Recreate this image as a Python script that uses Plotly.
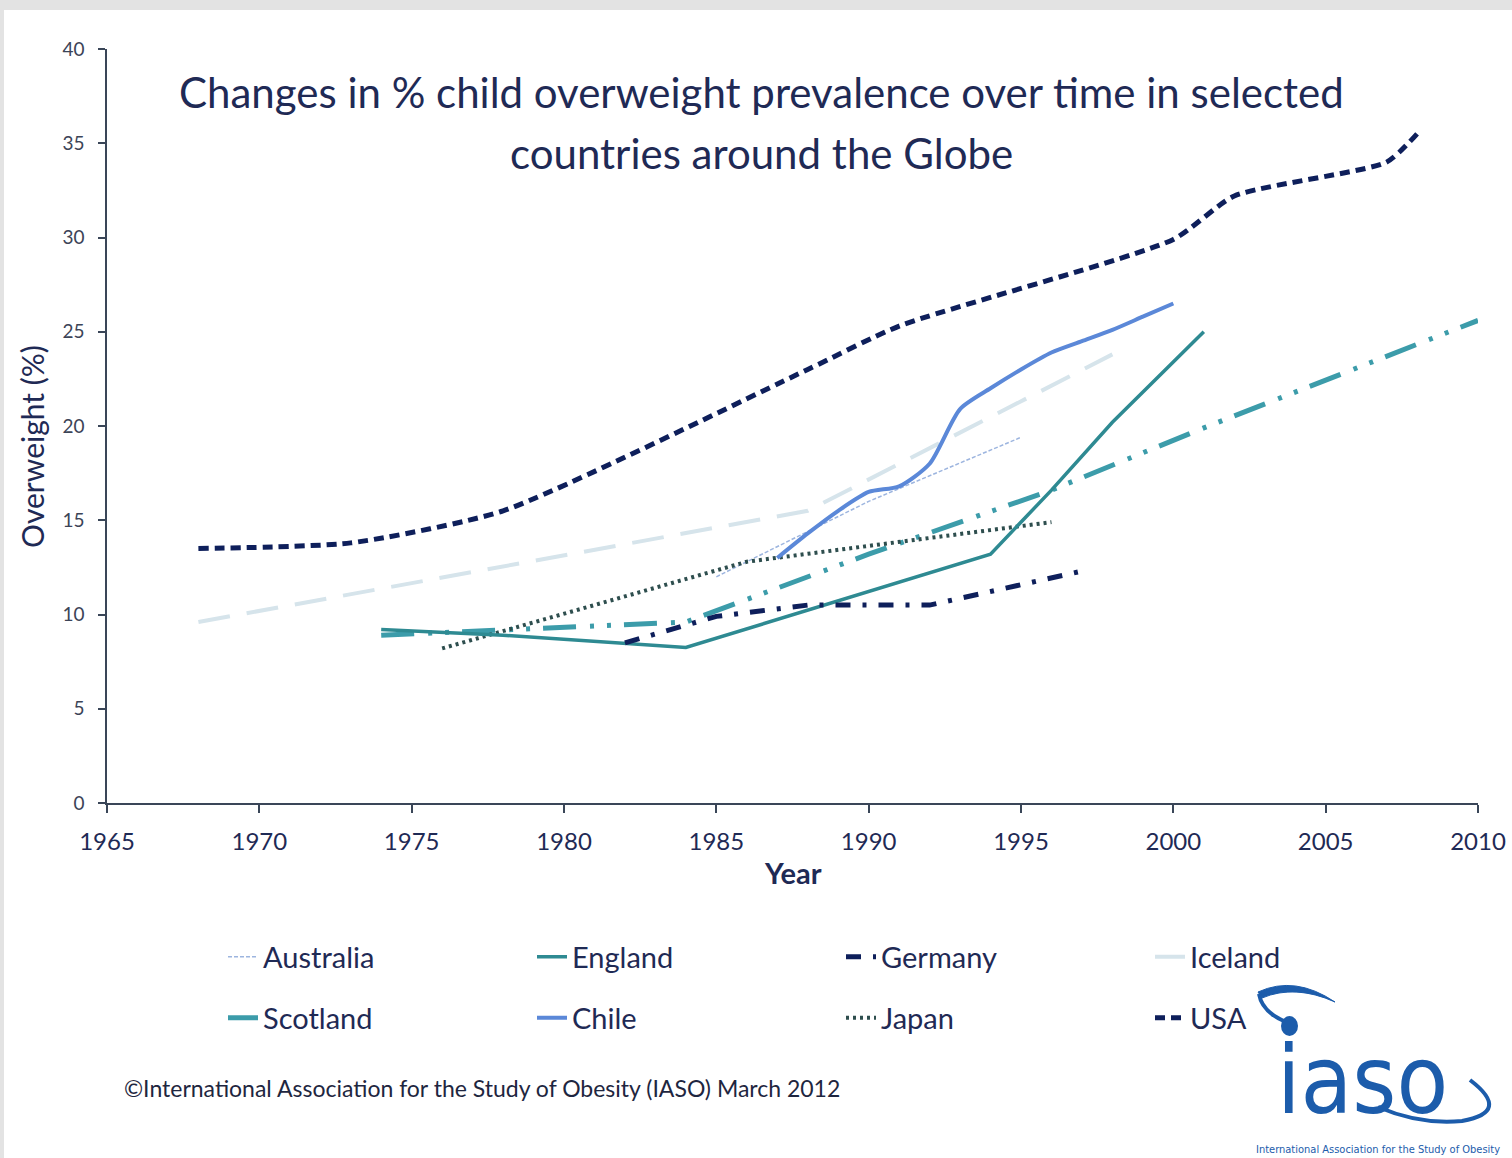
import plotly.graph_objects as go

# ---------------- data ----------------
usa_years = [1968, 1973, 1978, 1988, 1991, 2000, 2002, 2007, 2008]
usa_vals = [13.5, 13.8, 15.5, 23.0, 25.3, 29.9, 32.2, 34.0, 35.5]

iceland_years = [1968, 1988, 1998]
iceland_vals = [9.6, 15.5, 23.8]

australia_years = [1985, 1990, 1995]
australia_vals = [12.0, 16.0, 19.4]

england_years = [1974, 1978, 1984, 1994, 1996, 1998, 2001]
england_vals = [9.2, 8.9, 8.25, 13.2, 16.6, 20.2, 25.0]

scotland_years = [1974, 1978, 1984, 1990, 1996, 2001, 2010]
scotland_vals = [8.9, 9.2, 9.6, 13.2, 16.6, 19.9, 25.6]

germany_years = [1982, 1985, 1988, 1992, 1997]
germany_vals = [8.5, 9.9, 10.5, 10.5, 12.3]

japan_years = [1976, 1986, 1996]
japan_vals = [8.2, 12.8, 14.9]

chile_years = [1987, 1988, 1989, 1990, 1991, 1992, 1993, 1994, 1995, 1996, 1997, 1998, 1999, 2000]
chile_vals = [13.0, 14.3, 15.5, 16.5, 16.8, 18.0, 20.9, 22.0, 23.0, 23.9, 24.5, 25.1, 25.8, 26.5]

x_ticks = [1965, 1970, 1975, 1980, 1985, 1990, 1995, 2000, 2005, 2010]
y_ticks = [0, 5, 10, 15, 20, 25, 30, 35, 40]

# ---------------- layout geometry ----------------
W, H = 1512, 1158
L, R, T, B = 107, 1478, 49, 803
PW, PH = R - L, B - T


def px(xp):
    return (xp - L) / PW


def py(yp):
    return (B - yp) / PH


NAVY = "#0E1F5B"
TEXT = "#1F2A55"
FONT = "Lato"
LOGO = "#1C5CAB"
LOGO_FONT = "DejaVu Sans Condensed, Roboto Condensed, Roboto"

fig = go.Figure()


def add(name, xs, ys, color, width, dash, legend, shape="linear", smoothing=None):
    line = dict(color=color, width=width, dash=dash, shape=shape)
    if smoothing is not None:
        line["smoothing"] = smoothing
    fig.add_trace(go.Scatter(x=xs, y=ys, mode="lines", name=name, line=line,
                             legend=legend, hoverinfo="x+y+name"))


# draw order (back to front)
add("Iceland", iceland_years, iceland_vals, "#D6E4EB", 4, "32px,17px", "legend")
add("Australia", australia_years, australia_vals, "#9DB5DF", 1.5, "4px,2px", "legend")
add("Scotland", scotland_years, scotland_vals, "#3C9CAA", 5, "33px,14px,4px,13px,4px,13px", "legend2")
add("Japan", japan_years, japan_vals, "#2E4E4E", 4, "3px,4px", "legend2")
add("England", england_years, england_vals, "#2E8A92", 3.5, "solid", "legend")
add("Germany", germany_years, germany_vals, NAVY, 5, "15px,12px,4px,12px", "legend")
add("Chile", chile_years, chile_vals, "#5B88D8", 4, "solid", "legend2", shape="spline", smoothing=0.7)
add("USA", usa_years, usa_vals, NAVY, 5, "10px,6px", "legend2", shape="spline", smoothing=0.6)

ranks = {"Australia": 1, "England": 2, "Germany": 3, "Iceland": 4,
         "Scotland": 1, "Chile": 2, "Japan": 3, "USA": 4}
for tr in fig.data:
    tr.legendrank = ranks[tr.name]

legend_common = dict(orientation="h", xanchor="left", yanchor="middle",
                     entrywidth=264, entrywidthmode="pixels",
                     font=dict(family=FONT, size=29, color=TEXT),
                     bgcolor="rgba(0,0,0,0)", borderwidth=0,
                     traceorder="normal", itemclick=False, itemdoubleclick=False)

fig.update_layout(
    width=W, height=H,
    margin=dict(l=L, r=W - R, t=T, b=H - B, autoexpand=False),
    paper_bgcolor="#E3E3E3",
    plot_bgcolor="rgba(0,0,0,0)",
    showlegend=True,
    legend=dict(x=px(223), y=py(957), **legend_common),
    legend2=dict(x=px(223), y=py(1018), **legend_common),
    xaxis=dict(range=[1965, 2010], tickvals=x_ticks, showgrid=False, zeroline=False,
               showline=True, linecolor="#3A4658", linewidth=1.5,
               ticks="outside", ticklen=8, tickcolor="#3A4658", tickwidth=1.5,
               tickfont=dict(family=FONT, size=24, color=TEXT),
               ticklabelstandoff=8, fixedrange=True),
    yaxis=dict(range=[0, 40], tickvals=y_ticks, showgrid=False, zeroline=False,
               showline=True, linecolor="#3A4658", linewidth=1.5,
               ticks="outside", ticklen=7, tickcolor="#3A4658", tickwidth=1.5,
               tickfont=dict(family=FONT, size=19, color="#3C4457"),
               ticklabelstandoff=10, fixedrange=True),
    shapes=[
        dict(type="rect", xref="paper", yref="paper", layer="below",
             x0=px(4), x1=px(W + 5), y0=py(H + 5), y1=py(10),
             fillcolor="white", line=dict(width=0)),
        # logo swoosh (upper)
        dict(type="path", xref="paper", yref="paper", layer="above",
             path=("M {a},{b} Q {c},{d} {e},{f} Q {g},{h} {a2},{b2} Z").format(
                 a=px(1258), b=py(992), c=px(1295), d=py(975), e=px(1335), f=py(1002),
                 g=px(1295), h=py(984), a2=px(1262), b2=py(998)),
             fillcolor=LOGO, line=dict(color=LOGO, width=1)),
        dict(type="path", xref="paper", yref="paper", layer="above",
             path="M {a},{b} Q {c},{d} {e},{f}".format(
                 a=px(1259), b=py(994), c=px(1262), d=py(1012), e=px(1286), f=py(1022)),
             line=dict(color=LOGO, width=4)),
        dict(type="circle", xref="paper", yref="paper", layer="above",
             x0=px(1281), x1=px(1298), y0=py(1036), y1=py(1016),
             fillcolor=LOGO, line=dict(width=0)),
        # logo swoosh (lower)
        dict(type="path", xref="paper", yref="paper", layer="above",
             path="M {a},{b} Q {c},{d} {e},{f} Q {g},{h} {i},{j}".format(
                 a=px(1470), b=py(1080), c=px(1512), d=py(1112), e=px(1462), f=py(1121),
                 g=px(1420), h=py(1125), i=px(1378), j=py(1107)),
             line=dict(color=LOGO, width=4)),
    ],
    annotations=[
        dict(text="Changes in % child overweight prevalence over time in selected",
             xref="paper", yref="paper", x=px(761), y=py(92), showarrow=False,
             xanchor="center", yanchor="middle",
             font=dict(family=FONT, size=42, color=TEXT)),
        dict(text="countries around the Globe",
             xref="paper", yref="paper", x=px(761), y=py(153), showarrow=False,
             xanchor="center", yanchor="middle",
             font=dict(family=FONT, size=42, color=TEXT)),
        dict(text="<b>Year</b>", xref="paper", yref="paper", x=px(793), y=py(872),
             showarrow=False, xanchor="center", yanchor="middle",
             font=dict(family=FONT, size=29, color=TEXT)),
        dict(text="Overweight (%)", xref="paper", yref="paper", x=px(32), y=py(447),
             showarrow=False, xanchor="center", yanchor="middle", textangle=-90,
             font=dict(family=FONT, size=30, color=TEXT)),
        dict(text="\u00a9International Association for the Study of Obesity (IASO) March 2012",
             xref="paper", yref="paper", x=px(122), y=py(1088), showarrow=False,
             xanchor="left", yanchor="middle",
             font=dict(family=FONT, size=23, color="#1E2640")),
        dict(text="iaso", xref="paper", yref="paper", x=px(1362), y=py(1080),
             showarrow=False, xanchor="center", yanchor="middle",
             font=dict(family=LOGO_FONT, size=94, color=LOGO)),
        dict(text="International Association for the Study of Obesity",
             xref="paper", yref="paper", x=px(1378), y=py(1149), showarrow=False,
             xanchor="center", yanchor="middle",
             font=dict(family=LOGO_FONT, size=11, color=LOGO)),
    ],
)

fig.write_html("out.html", config={"displayModeBar": False})
